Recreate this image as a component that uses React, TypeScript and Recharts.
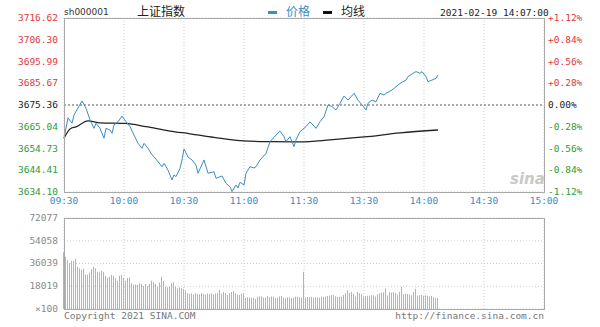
import React from "react";
import {
  Bar,
  CartesianGrid,
  ComposedChart,
  Line,
  LineChart,
  ReferenceLine,
  XAxis,
  YAxis,
} from "recharts";

// minutes since 09:30 (11:30 and 13:00 share minute 120)
const timeTicks = [0, 30, 60, 90, 120, 150, 180, 210, 240];
const timeLabels = ["09:30", "10:00", "10:30", "11:00", "11:30", "13:30", "14:00", "14:30", "15:00"];

const prevClose = 3675.36;
const priceTicks = [3634.1, 3644.41, 3654.73, 3665.04, 3675.36, 3685.67, 3695.99, 3706.3, 3716.62];

const priceMinutes = [
  0, 2, 4, 5, 9, 11, 13, 15, 16, 18, 20, 21, 23, 24, 25, 27, 29, 31, 33, 35, 37, 39, 40, 42, 44, 45,
  47, 49, 50, 52, 54, 55, 56, 58, 59, 60, 62, 64, 66, 67, 70, 72, 75, 76, 79, 81, 83, 84, 86, 87, 88,
  90, 91, 93, 95, 96, 98, 101, 103, 106, 108, 110, 111, 113, 115, 116, 118, 121, 123, 126, 128, 130,
  132, 134, 136, 138, 140, 142, 145, 147, 149, 151, 152, 154, 156, 158, 160, 161, 164, 166, 168, 171,
  172, 175, 176, 178, 179, 181, 182, 184, 186, 187,
];
const priceValues = [
  3659.6, 3669.3, 3666.7, 3670.6, 3677.3, 3673.8, 3668.3, 3664.3, 3666.7, 3664.3, 3659.6, 3664.3,
  3663.5, 3661.9, 3665.9, 3667.4, 3670.1, 3667.4, 3665.1, 3661.1, 3657.2, 3654.8, 3657.2, 3654.8,
  3651.7, 3650.8, 3648.5, 3646.1, 3647.7, 3644.5, 3639.8, 3642.2, 3641.4, 3645.3, 3649.3, 3654.5,
  3650.7, 3649.3, 3646.9, 3643.0, 3649.3, 3643.0, 3643.7, 3640.6, 3641.7, 3638.2, 3636.6, 3634.3,
  3637.4, 3636.0, 3638.7, 3637.4, 3643.0, 3646.1, 3645.5, 3646.1, 3649.3, 3652.4, 3658.0, 3661.1,
  3663.0, 3660.3, 3658.0, 3660.3, 3655.6, 3658.8, 3662.7, 3665.1, 3667.4, 3664.3, 3667.4, 3669.8,
  3675.4, 3674.6, 3673.0, 3676.2, 3679.6, 3677.7, 3680.9, 3677.7, 3675.4, 3673.0, 3676.2, 3677.7,
  3676.9, 3680.9, 3680.1, 3680.9, 3682.5, 3684.0, 3685.6, 3687.2, 3688.8, 3690.7, 3691.2, 3690.4,
  3691.2, 3688.8, 3686.4, 3687.2, 3688.0, 3689.6,
];

const avgMinutes = [0, 3, 6, 12, 18, 31, 41, 53, 63, 75, 90, 105, 118, 133, 150, 168, 187];
const avgValues = [
  3659.6, 3664.0, 3665.0, 3667.8, 3666.9, 3666.6, 3665.1, 3663.0, 3661.7, 3660.0, 3658.3, 3658.0,
  3657.9, 3658.8, 3660.2, 3662.1, 3663.5,
];

// volume per minute, in units of 100
const volumeTicks = [0, 18019, 36039, 54058, 72077];
const volumeValues = [
  44900, 41400, 38800, 36200, 38000, 38000, 39600, 33500, 32200, 31000, 31800, 27500, 27200, 28800,
  31700, 33500, 32200, 29500, 29000, 30100, 29500, 26400, 24800, 25500, 27000, 26400, 24500, 22400,
  26400, 27000, 24500, 22400, 24500, 25000, 20300, 19500, 19500, 19000, 20300, 19800, 18300, 19800,
  18300, 19800, 22400, 21400, 19800, 17700, 21000, 25600, 22400, 17700, 17200, 17700, 20300, 21100,
  17700, 16400, 17200, 16400, 15800, 14600, 12400, 11800, 12200, 11500, 12400, 12000, 11700, 12600,
  12100, 11400, 12300, 11900, 12500, 11600, 12200, 12700, 15000, 12000, 13400, 12600, 11000, 12400,
  13400, 14200, 12400, 11500, 11000, 12000, 12300, 9000, 9400, 9200, 9000, 8800, 8000, 9800, 9900,
  10000, 9200, 8900, 10300, 9600, 9900, 9700, 8800, 9100, 9900, 10200, 9000, 8500, 9400, 9100, 8700,
  8900, 9800, 9700, 9300, 9000, 29500, 9300, 9600, 9300, 9800, 9000, 9100, 9400, 9000, 9900, 9700,
  9900, 10200, 10500, 11000, 11200, 10000, 9600, 9800, 9900, 11000, 12400, 14800, 12600, 13500, 11800,
  9900, 13400, 12400, 11700, 9800, 10200, 10400, 10400, 10900, 10900, 9900, 11600, 12400, 12900,
  13300, 16400, 10700, 13300, 13000, 13200, 12600, 11500, 13600, 17700, 11600, 12200, 11800, 11600,
  10800, 13500, 16000, 10600, 10800, 11200, 10700, 10900, 10400, 9900, 10200, 9400, 8600, 8800,
];

const priceData = priceMinutes.map((m, i) => ({ m, price: priceValues[i] }));
const avgData = avgMinutes.map((m, i) => ({ m, avg: avgValues[i] }));
const volumeData = volumeValues.map((v, i) => ({ m: i, vol: v }));

const RED = "#e0393e";
const GREEN = "#2f9a3a";
const BLUE = "#3a8cc6";
const MONO = "'DejaVu Sans Mono', 'Liberation Mono', monospace";

const tickColor = (v: number) =>
  Math.abs(v - prevClose) < 0.01 ? "#222" : v > prevClose ? RED : GREEN;

const PriceTick = (props: any) => {
  const { x, y, payload } = props;
  return (
    <text x={x} y={y} dy={3} textAnchor="end" fontSize={9.5} fontFamily={MONO} fill={tickColor(payload.value)}>
      {payload.value.toFixed(2)}
    </text>
  );
};

const PctTick = (props: any) => {
  const { x, y, payload } = props;
  const pct = ((payload.value - prevClose) / prevClose) * 100;
  const s = Math.abs(pct) < 0.005 ? "0.00%" : (pct > 0 ? "+" : "") + pct.toFixed(2) + "%";
  return (
    <text x={x} y={y} dy={3} textAnchor="start" fontSize={9.5} fontFamily={MONO} fill={tickColor(payload.value)}>
      {s}
    </text>
  );
};

const TimeTick = (props: any) => {
  const { x, y, payload } = props;
  return (
    <text x={x} y={y} dy={7} textAnchor="middle" fontSize={9.5} fontFamily={MONO} fill={BLUE}>
      {timeLabels[timeTicks.indexOf(payload.value)]}
    </text>
  );
};

const VolTick = (props: any) => {
  const { x, y, payload } = props;
  return (
    <text x={x} y={y} dy={3} textAnchor="end" fontSize={9.5} fontFamily={MONO} fill="#8a8a8a">
      {payload.value === 0 ? "×100" : String(payload.value)}
    </text>
  );
};

const abs = (left: number, top: number, extra: React.CSSProperties = {}): React.CSSProperties => ({
  position: "absolute",
  left,
  top,
  whiteSpace: "nowrap",
  lineHeight: 1,
  ...extra,
});

export default function App() {
  return (
    <div style={{ position: "absolute", left: 0, top: 0, width: 600, height: 327, background: "#fff", overflow: "hidden" }}>
      {/* header */}
      <div style={abs(64, 8, { fontFamily: "'DejaVu Sans', sans-serif", fontSize: 9, color: "#333" })}>sh000001</div>
      <div style={abs(137, 5, { fontFamily: "'Noto Sans CJK SC', sans-serif", fontSize: 12, color: "#222" })}>上证指数</div>
      <div style={abs(268, 11, { width: 9, height: 3, background: BLUE })} />
      <div style={abs(286, 5, { fontFamily: "'Noto Sans CJK SC', sans-serif", fontSize: 12, color: BLUE })}>价格</div>
      <div style={abs(323, 11, { width: 9, height: 3, background: "#111" })} />
      <div style={abs(341, 5, { fontFamily: "'Noto Sans CJK SC', sans-serif", fontSize: 12, color: "#222" })}>均线</div>
      <div style={abs(440, 8, { fontFamily: MONO, fontSize: 9.5, color: "#222", width: 104, textAlign: "right" })}>
        2021-02-19 14:07:00
      </div>

      {/* price chart */}
      <div style={abs(0, 0)}>
        <LineChart width={600} height={212} margin={{ top: 18, right: 0, bottom: 0, left: 0 }}>
          <CartesianGrid stroke="#cfcfcf" strokeDasharray="1 2" />
          <XAxis
            dataKey="m"
            type="number"
            domain={[0, 240]}
            ticks={timeTicks}
            allowDuplicatedCategory={false}
            height={20}
            tickSize={0}
            tickMargin={5}
            axisLine={false}
            tick={<TimeTick />}
            interval={0}
          />
          <YAxis
            yAxisId="left"
            type="number"
            domain={[3634.1, 3716.62]}
            ticks={priceTicks}
            width={64}
            tickSize={0}
            tickMargin={6}
            axisLine={false}
            tick={<PriceTick />}
            interval={0}
          />
          <YAxis
            yAxisId="right"
            orientation="right"
            type="number"
            domain={[3634.1, 3716.62]}
            ticks={priceTicks}
            width={56}
            tickSize={0}
            tickMargin={4}
            axisLine={false}
            tick={<PctTick />}
            interval={0}
          />
          <ReferenceLine yAxisId="left" y={prevClose} stroke="#555" strokeDasharray="2 2" />
          <Line
            yAxisId="left"
            data={avgData}
            dataKey="avg"
            type="monotone"
            stroke="#222"
            strokeWidth={1.3}
            dot={false}
            isAnimationActive={false}
          />
          <Line
            yAxisId="right"
            data={priceData}
            dataKey="price"
            type="linear"
            stroke={BLUE}
            strokeWidth={1}
            dot={false}
            isAnimationActive={false}
          />
        </LineChart>
      </div>
      <div style={abs(64, 18, { width: 479, height: 173, border: "1px solid #a8a8a8", pointerEvents: "none" })} />
      <div
        style={abs(510, 172, {
          fontFamily: "'DejaVu Sans', sans-serif",
          fontStyle: "italic",
          fontWeight: "bold",
          fontSize: 15,
          color: "#c9c9c9",
        })}
      >
        sina
      </div>

      {/* volume chart */}
      <div style={abs(0, 210)}>
        <ComposedChart width={600} height={112} data={volumeData} margin={{ top: 8, right: 56, bottom: 13, left: 0 }}>
          <CartesianGrid stroke="#cfcfcf" strokeDasharray="1 2" />
          <XAxis dataKey="m" type="number" domain={[0, 240]} ticks={timeTicks} hide />
          <YAxis
            type="number"
            domain={[0, 72077]}
            ticks={volumeTicks}
            width={64}
            tickSize={0}
            tickMargin={6}
            axisLine={false}
            tick={<VolTick />}
            interval={0}
          />
          <Bar dataKey="vol" fill="#b4b4b4" barSize={1} isAnimationActive={false} />
        </ComposedChart>
      </div>
      <div style={abs(64, 218, { width: 479, height: 90, border: "1px solid #a8a8a8", pointerEvents: "none" })} />
      <div style={abs(64, 311, { fontFamily: MONO, fontSize: 9.5, color: "#777" })}>Copyright 2021 SINA.COM</div>
      <div style={abs(380, 311, { fontFamily: MONO, fontSize: 9.5, color: "#777", width: 164, textAlign: "right" })}>
        http://finance.sina.com.cn
      </div>
    </div>
  );
}
